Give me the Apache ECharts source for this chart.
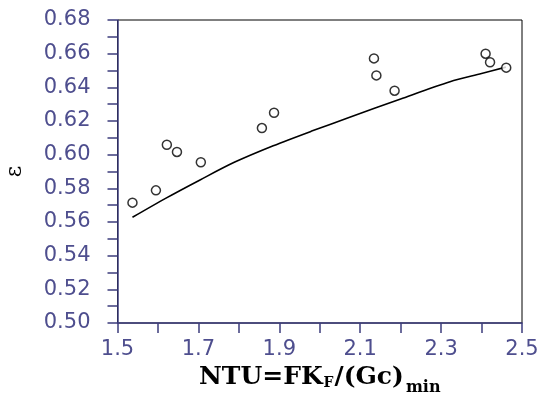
<!DOCTYPE html>
<html><head><meta charset="utf-8">
<script src="https://cdn.jsdelivr.net/npm/echarts@6/dist/echarts.min.js"></script>
<style>html,body{margin:0;padding:0;background:#fff}#c{width:547px;height:396px}</style>
</head><body><div id="c"></div>
<script>
// measured points
const ntuPoints = [1.537, 1.595, 1.622, 1.647, 1.706, 1.857, 1.887, 2.134, 2.140, 2.185, 2.410, 2.421, 2.461];
const effPoints = [0.5715, 0.5788, 0.6059, 0.6016, 0.5955, 0.6158, 0.6249, 0.6572, 0.6471, 0.6380, 0.6600, 0.6549, 0.6517];
// fitted curve
const ntuCurve = [1.537, 1.620, 1.704, 1.790, 1.885, 1.980, 2.074, 2.200, 2.322, 2.400, 2.460];
const effCurve = [0.5628, 0.5742, 0.5850, 0.5956, 0.6053, 0.6140, 0.6222, 0.6331, 0.6433, 0.6482, 0.6520];
const xTicks = [1.5, 1.7, 1.9, 2.1, 2.3, 2.5];
const yTicks = [0.50, 0.52, 0.54, 0.56, 0.58, 0.60, 0.62, 0.64, 0.66, 0.68];

const axisBlue = '#3c3c7c';
const labelBlue = '#4e4e8e';
const chart = echarts.init(document.getElementById('c'), null, {renderer: 'canvas'});
chart.setOption({
  animation: false,
  backgroundColor: '#fff',
  grid: {left: 117.5, right: 25, top: 20, bottom: 73, show: true, borderColor: '#000', borderWidth: 1,
    containLabel: false, outerBoundsMode: 'none'},
  xAxis: {
    type: 'value', min: xTicks[0], max: xTicks[xTicks.length - 1], interval: 0.2,
    name: '{a|NTU=FK}{f|F}{a|/(Gc)}{m|min}',
    nameLocation: 'middle', nameGap: 40,
    nameTextStyle: {
      rich: {
        a: {fontFamily: 'DejaVu Serif', fontWeight: 'bold', fontSize: 25, color: '#000', verticalAlign: 'bottom', padding: [0, 0, 6, 0]},
        f: {fontFamily: 'DejaVu Serif', fontWeight: 'bold', fontSize: 14, color: '#000', verticalAlign: 'bottom', padding: [0, 1, 6, 1]},
        m: {fontFamily: 'DejaVu Serif', fontWeight: 'bold', fontSize: 16, color: '#000', verticalAlign: 'bottom', padding: [0, 0, 0, 2]}
      }
    },
    axisLine: {show: true, onZero: false, lineStyle: {color: axisBlue, width: 1.5}},
    axisTick: {show: true, inside: false, length: 10, lineStyle: {color: axisBlue, width: 1.5}},
    minorTick: {show: true, splitNumber: 2, length: 10, lineStyle: {color: axisBlue, width: 1.5}},
    splitLine: {show: false},
    axisLabel: {color: labelBlue, fontFamily: 'DejaVu Sans', fontSize: 21, margin: 16,
      formatter: v => v.toFixed(1)}
  },
  yAxis: {
    type: 'value', min: yTicks[0], max: yTicks[yTicks.length - 1], interval: 0.02,
    name: 'ε', nameLocation: 'middle', nameGap: 91, nameRotate: 90,
    nameTextStyle: {fontFamily: 'DejaVu Serif', fontSize: 22, color: '#000'},
    axisLine: {show: true, onZero: false, lineStyle: {color: axisBlue, width: 1.5}},
    axisTick: {show: true, inside: false, length: 10, lineStyle: {color: axisBlue, width: 1.5}},
    minorTick: {show: true, splitNumber: 2, length: 10, lineStyle: {color: axisBlue, width: 1.5}},
    splitLine: {show: false},
    axisLabel: {color: labelBlue, fontFamily: 'DejaVu Sans', fontSize: 21, margin: 27,
      formatter: v => v.toFixed(2)}
  },
  series: [
    {
      type: 'line', data: ntuCurve.map((x, i) => [x, effCurve[i]]),
      smooth: 0.3, showSymbol: false, symbol: 'none',
      lineStyle: {color: '#000', width: 1.6}, z: 2
    },
    {
      type: 'scatter', data: ntuPoints.map((x, i) => [x, effPoints[i]]),
      symbol: 'circle', symbolSize: 9,
      itemStyle: {color: '#fff', borderColor: '#000', borderWidth: 1.5}, z: 3
    }
  ]
});
</script>
</body></html>
